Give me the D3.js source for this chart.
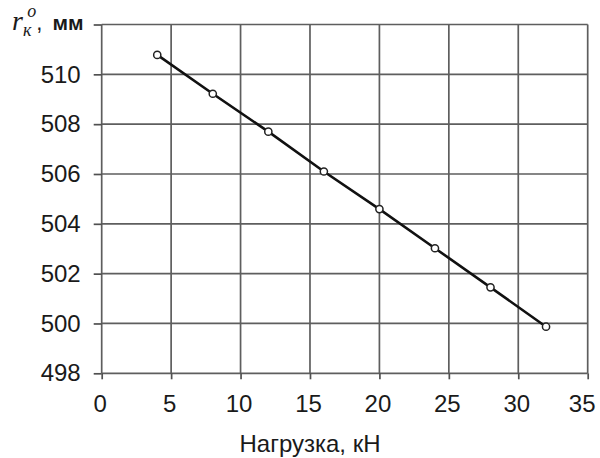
<!DOCTYPE html>
<html>
<head>
<meta charset="utf-8">
<script src="https://cdn.jsdelivr.net/npm/d3@7"></script>
<style>
  body { margin: 0; background: #fff; }
  svg { display: block; }
  .grid line { stroke: #5e5e5e; stroke-width: 1.7; }
  .axis path { display: none; }
  .axis line { stroke: #505050; stroke-width: 1.7; }
  .axis text { font-family: "Liberation Sans", Arial, sans-serif; font-size: 24px; fill: #1a1a1a; }
  .title { font-family: "Liberation Sans", Arial, sans-serif; fill: #1a1a1a; }
</style>
</head>
<body>
<svg id="chart"></svg>
<script>
// DATA
const loads = [4, 8, 12, 16, 20, 24, 28, 32];                 // кН
const radius = [510.78, 509.22, 507.70, 506.10, 504.59, 503.02, 501.45, 499.87]; // мм
const xTicks = [0, 5, 10, 15, 20, 25, 30, 35];
const yTicks = [498, 500, 502, 504, 506, 508, 510, 512];
const xTitle = "Нагрузка, кН";

const width = 600;
const height = 458;
const plot = { left: 101.7, right: 587.7, top: 24.5, bottom: 373.3 };

const svg = d3.select("#chart")
  .attr("width", width)
  .attr("height", height);

const x = d3.scaleLinear()
  .domain([0, 35])
  .range([plot.left, plot.right]);

const y = d3.scaleLinear()
  .domain([498, 512])
  .range([plot.bottom, plot.top]);

// grid
const grid = svg.append("g").attr("class", "grid");

grid.selectAll(".v")
  .data(xTicks)
  .enter().append("line")
  .attr("class", "v")
  .attr("x1", d => x(d)).attr("x2", d => x(d))
  .attr("y1", plot.top).attr("y2", plot.bottom);

grid.selectAll(".h")
  .data(yTicks)
  .enter().append("line")
  .attr("class", "h")
  .attr("x1", plot.left).attr("x2", plot.right)
  .attr("y1", d => y(d)).attr("y2", d => y(d));

// axes (outer tick marks + labels)
const xAxis = svg.append("g")
  .attr("class", "axis")
  .attr("transform", `translate(0,${plot.bottom})`)
  .call(d3.axisBottom(x).tickValues(xTicks).tickSize(6).tickPadding(16).tickFormat(d3.format("d")));

// the last label sits a bit inside, as in the source
xAxis.selectAll(".tick text")
  .attr("dx", d => d === 35 ? -6 : -2);

svg.append("g")
  .attr("class", "axis")
  .attr("transform", `translate(${plot.left},0)`)
  .call(d3.axisLeft(y).tickValues(yTicks).tickSize(8).tickPadding(13)
    .tickFormat(d => d === 512 ? "" : d));

// series
const line = d3.line()
  .x((d, i) => x(loads[i]))
  .y(d => y(d));

svg.append("path")
  .datum(radius)
  .attr("fill", "none")
  .attr("stroke", "#111")
  .attr("stroke-width", 2.6)
  .attr("d", line);

svg.selectAll(".pt")
  .data(radius)
  .enter().append("circle")
  .attr("class", "pt")
  .attr("cx", (d, i) => x(loads[i]))
  .attr("cy", d => y(d))
  .attr("r", 3.6)
  .attr("fill", "#fff")
  .attr("stroke", "#222")
  .attr("stroke-width", 1.5);

// axis titles
const yTitle = svg.append("text")
  .attr("class", "title")
  .attr("x", 12)
  .attr("y", 30);

yTitle.append("tspan")
  .attr("font-family", "'Liberation Serif', 'Times New Roman', serif")
  .attr("font-style", "italic")
  .attr("font-size", 28)
  .text("r");
yTitle.append("tspan")
  .attr("font-family", "'Liberation Serif', 'Times New Roman', serif")
  .attr("font-style", "italic")
  .attr("font-size", 18)
  .attr("dy", 6)
  .text("к");
yTitle.append("tspan")
  .attr("font-family", "'Liberation Serif', 'Times New Roman', serif")
  .attr("font-style", "italic")
  .attr("font-size", 18)
  .attr("dx", -4)
  .attr("dy", -19)
  .text("o");
yTitle.append("tspan")
  .attr("font-size", 22)
  .attr("dy", 13)
  .text(",");
yTitle.append("tspan")
  .attr("font-size", 21)
  .attr("font-weight", "bold")
  .attr("dx", 10)
  .text("мм");

svg.append("text")
  .attr("class", "title")
  .attr("x", 310)
  .attr("y", 452)
  .attr("text-anchor", "middle")
  .attr("font-size", 24)
  .text(xTitle);
</script>
</body>
</html>
